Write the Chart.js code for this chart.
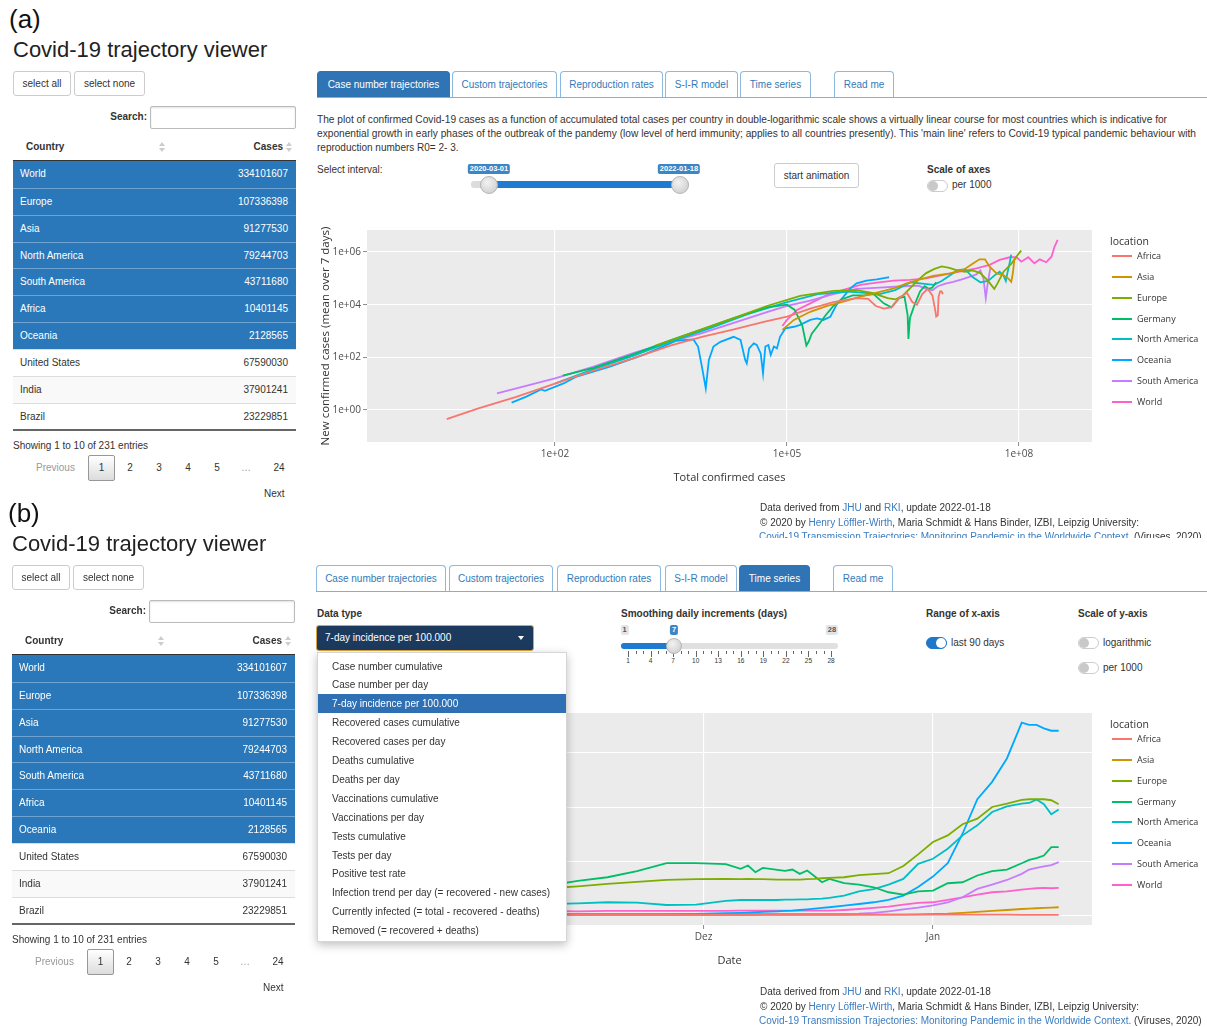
<!DOCTYPE html>
<html lang="de">
<head>
<meta charset="utf-8">
<title>Covid-19 trajectory viewer</title>
<script src="https://cdn.jsdelivr.net/npm/chart.js@4.4.1/dist/chart.umd.min.js"></script>
<style>
  html, body { margin: 0; padding: 0; }
  body { position: relative; width: 1207px; height: 1027px; overflow: hidden; background: #fff;
    font-family: "Liberation Sans", Arial, sans-serif; font-size: 10px; color: #333; }
  .box { position: absolute; box-sizing: border-box; }
  .txt { position: absolute; white-space: nowrap; line-height: 14px; }
  .panelLabel { font-size: 26px; line-height: 30px; color: #111; white-space: nowrap; }
  .appTitle { font-size: 22px; line-height: 26px; color: #222; white-space: nowrap; }
  .btn { border: 1px solid #ccc; border-radius: 3px; text-align: center; line-height: 23px; background: #fff; color: #333; white-space: nowrap; }
  .input { border: 1px solid #bbb; border-radius: 2px; box-shadow: inset 0 1px 2px rgba(0,0,0,.12); background: #fff; }
  .row { border-top: 1px solid #ddd; }
  .row.sel { background: #2a78b9; color: #fff; border-top-color: #6ea3d2; }
  .row.odd { background: #f9f9f9; }
  .row span { position: absolute; top: 0; white-space: nowrap; }
  .sort { position: absolute; width: 6px; height: 10px; }
  .sort::before { content: ""; position: absolute; left: 0; top: 0; border-left: 3px solid transparent; border-right: 3px solid transparent; border-bottom: 4px solid #ccc; }
  .sort::after { content: ""; position: absolute; left: 0; top: 6px; border-left: 3px solid transparent; border-right: 3px solid transparent; border-top: 4px solid #ccc; }
  .pageBox { border: 1px solid #979797; border-radius: 2px; background: linear-gradient(#fff, #dcdcdc); text-align: center; line-height: 24px; }
  .tab { border: 1px solid #8db8e0; border-bottom: none; border-radius: 4px 4px 0 0; text-align: center; line-height: 25px; color: #337ab7; background: #fff; white-space: nowrap; }
  .tab.active { background: #2f74b5; border-color: #2f74b5; color: #fff; }
  .lnk { color: #3a7cc0; }
  .slLabel { position: absolute; height: 10px; line-height: 10px; padding: 0 2px; border-radius: 2px; font-size: 7.5px; font-weight: bold; color: #fff; background: #3d86c6; white-space: nowrap; transform: translateX(-50%); }
  .slLabel.grey { background: #e1e4e9; color: #555; }
  .handle { position: absolute; border-radius: 50%; border: 1px solid #b5b5b5; background: radial-gradient(circle at 40% 35%, #f2f2f2, #c8c8c8); box-sizing: border-box; }
  .toggle { position: absolute; width: 21px; height: 12px; border: 1px solid #ccc; border-radius: 7px; background: #fff; box-sizing: border-box; }
  .toggle::after { content: ""; position: absolute; top: 0; left: 0; width: 10px; height: 10px; border-radius: 50%; background: #c9c9c9; }
  .toggle.on { background: #1f77c9; border-color: #1f77c9; }
  .toggle.on::after { left: 9px; background: #fff; }
  .dropdown { background: #fff; border: 1px solid #d6d6d6; box-shadow: 0 3px 9px rgba(0,0,0,.25); z-index: 5; }
  .ddItem { position: absolute; left: 0; width: 100%; height: 19px; line-height: 19px; padding-left: 14px; box-sizing: border-box; white-space: nowrap; }
  .ddItem.sel { background: #2f6fb3; color: #fff; }
  canvas { position: absolute; }
</style>
</head>
<body>
<canvas id="trajectoryChart" width="800" height="275" style="left:310px;top:222px"></canvas>
<canvas id="timeSeriesChart" width="800" height="275" style="left:310px;top:705px"></canvas>
<script>
// ---------- sidebar table ----------
const tableCountries = ["World", "Europe", "Asia", "North America", "South America", "Africa", "Oceania", "United States", "India", "Brazil"];
const tableCases = [334101607, 107336398, 91277530, 79244703, 43711680, 10401145, 2128565, 67590030, 37901241, 23229851];
const selectedRows = 7;

// ---------- chart (a): trajectories [total confirmed, new confirmed (mean over 7 days)] ----------
const seriesNames = ["Africa", "Asia", "Europe", "Germany", "North America", "Oceania", "South America", "World"];
const seriesColors = ["#F8766D", "#CD9600", "#7CAE00", "#00BE67", "#00BFC4", "#00A9FF", "#C77CFF", "#FF61CC"];

const africaPath = [
  [3.98, 0.447], [10, 1.12], [31.6, 3.16], [100, 10], [316, 31.6], [1000, 89], [3160, 282], [7940, 603],
  [2.0e4, 1120], [5.01e4, 2240], [1.0e5, 3550], [2.0e5, 7080], [3.98e5, 12600], [7.94e5, 17800],
  [1.12e6, 16600], [1.41e6, 8910], [1.78e6, 7080], [2.24e6, 7940], [2.82e6, 17800], [3.55e6, 28200],
  [4.17e6, 12600], [4.79e6, 10000], [5.62e6, 25100], [6.61e6, 39800], [7.59e6, 22400], [8.13e6, 7940],
  [8.51e6, 3550], [8.91e6, 3980], [9.12e6, 20000], [9.55e6, 31600], [1.0e7, 31600], [1.04e7, 25100],
];
const asiaPath = [
  [8.71e4, 1100], [1.23e5, 2630], [2.0e5, 5370], [3.31e5, 8910], [5.37e5, 12900], [8.91e5, 20000],
  [1.45e6, 28800], [2.40e6, 41700], [3.55e6, 64600], [5.25e6, 91200], [7.76e6, 123000], [1.29e7, 155000],
  [1.91e7, 209000], [2.57e7, 372000], [3.09e7, 525000], [3.63e7, 525000], [4.17e7, 275000], [5.13e7, 155000],
  [6.17e7, 135000], [7.24e7, 100000], [7.94e7, 74100], [8.32e7, 155000], [8.71e7, 501000], [9.13e7, 575000],
];
const europePath = [
  [2000, 282], [3980, 562], [7590, 1100], [2.0e4, 3020], [5.5e4, 8910], [1.48e5, 21400], [3.98e5, 33100],
  [7.94e5, 35500], [1.26e6, 28200], [2.0e6, 17800], [2.51e6, 15800], [3.16e6, 22400], [3.98e6, 44700],
  [5.01e6, 89100], [6.31e6, 158000], [7.94e6, 224000], [1.0e7, 282000], [1.26e7, 251000], [1.58e7, 200000],
  [2.0e7, 178000], [2.51e7, 200000], [3.16e7, 158000], [3.98e7, 79400], [4.79e7, 39800], [5.25e7, 63100],
  [6.31e7, 178000], [7.94e7, 355000], [8.91e7, 562000], [1.0e8, 891000], [1.07e8, 1.12e6],
];
const germanyPath = [
  [126, 20], [316, 39.8], [1000, 126], [3160, 447], [7590, 1100], [2.0e4, 3020], [5.5e4, 7940], [1.0e5, 10000],
  [1.26e5, 6310], [1.58e5, 1580], [1.78e5, 282], [1.91e5, 398], [2.09e5, 794], [2.51e5, 1580], [3.16e5, 3980],
  [3.98e5, 8910], [5.01e5, 15800], [7.08e5, 22400], [1.0e6, 22400], [1.32e6, 25100], [1.78e6, 11200],
  [2.24e6, 7940], [2.82e6, 17800], [3.31e6, 20000], [3.63e6, 3980], [3.72e6, 501], [3.89e6, 3160],
  [4.47e6, 10000], [5.25e6, 31600], [6.03e6, 50100], [6.76e6, 39800], [7.59e6, 44700], [8.51e6, 70800],
];
const northAmericaPath = [
  [100, 10], [316, 35.5], [1000, 112], [3160, 398], [1.0e4, 1260], [3.16e4, 4470], [1.0e5, 12600],
  [2.51e5, 25100], [6.31e5, 31600], [1.0e6, 28200], [1.58e6, 25100], [2.51e6, 35500], [3.98e6, 70800],
  [5.62e6, 63100], [7.94e6, 56200], [1.0e7, 79400], [1.26e7, 126000], [1.58e7, 200000], [2.0e7, 224000],
  [2.51e7, 112000], [3.16e7, 70800], [3.98e7, 79400], [5.01e7, 141000], [5.62e7, 178000], [6.31e7, 126000],
  [6.76e7, 79400], [7.08e7, 158000], [7.59e7, 398000], [7.94e7, 794000],
];
const oceaniaPath = [
  [27.5, 1.91], [42.7, 3.24], [66.1, 6.03], [74.1, 5.37], [129, 10.2], [191, 18.6], [513, 44.7], [1380, 123],
  [3720, 427], [6170, 479], [7080, 257], [7940, 44.7], [8910, 6.61], [9770, 79.4], [11200, 257], [13800, 389],
  [20400, 603], [25100, 457], [28800, 79.4], [30200, 58.9], [32400, 219], [37200, 339], [40700, 295],
  [45700, 141], [49000, 24.5], [52500, 257], [57500, 295], [61700, 123], [67600, 257], [74100, 219],
  [81300, 603], [95500, 1260], [1.23e5, 1450], [1.48e5, 1700], [2.0e5, 2630], [2.45e5, 3020], [2.95e5, 2630],
  [3.63e5, 3470], [4.37e5, 9770], [5.37e5, 20000], [6.61e5, 41700], [7.94e5, 64600], [1.07e6, 81300],
  [1.45e6, 91200], [1.95e6, 107000], [2.09e6, 110000],
];
const southAmericaPath = [
  [17.8, 4.27], [39.8, 7.94], [100, 15.8], [316, 44.7], [1000, 141], [3160, 398], [7590, 794], [2.0e4, 2000],
  [5.5e4, 5250], [1.0e5, 8910], [2.0e5, 14100], [3.98e5, 25100], [7.94e5, 39800], [1.58e6, 44700],
  [3.16e6, 50100], [5.01e6, 52500], [6.31e6, 39800], [7.59e6, 35500], [8.91e6, 50100], [1.12e7, 63100],
  [1.41e7, 74100], [1.78e7, 89100], [2.24e7, 112000], [2.82e7, 141000], [3.16e7, 200000], [3.47e7, 100000],
  [3.72e7, 17800], [3.98e7, 79400], [4.27e7, 251000],
];
const worldPath = [
  [8.71e4, 1550], [1.0e5, 2630], [1.35e5, 6310], [2.0e5, 11200], [3.31e5, 23400], [5.37e5, 36300],
  [8.91e5, 56200], [1.45e6, 69200], [2.40e6, 81300], [3.89e6, 87100], [6.31e6, 100000], [1.05e7, 135000],
  [1.70e7, 178000], [2.82e7, 240000], [4.17e7, 324000], [5.62e7, 501000], [7.59e7, 631000], [9.33e7, 631000],
  [1.07e8, 427000], [1.32e8, 631000], [1.58e8, 372000], [1.86e8, 525000], [2.24e8, 407000], [2.63e8, 661000],
  [2.88e8, 1.58e6], [3.16e8, 2.88e6],
];
const trajectoryPaths = [africaPath, asiaPath, europePath, germanyPath, northAmericaPath, oceaniaPath, southAmericaPath, worldPath];

const totalTickValues = [1e2, 1e5, 1e8];
const totalTickLabels = ["1e+02", "1e+05", "1e+08"];
const dailyTickValues = [1, 1e2, 1e4, 1e6];
const dailyTickLabels = ["1e+00", "1e+02", "1e+04", "1e+06"];

// ---------- chart (b): 7-day incidence per 100.000, last 90 days ----------
const incidenceDates = [
  "2021-10-20", "2021-10-27", "2021-11-03", "2021-11-10", "2021-11-14", "2021-11-18", "2021-11-22", "2021-11-26",
  "2021-11-30", "2021-12-04", "2021-12-06", "2021-12-07", "2021-12-08", "2021-12-09", "2021-12-11", "2021-12-12",
  "2021-12-13", "2021-12-14", "2021-12-15", "2021-12-16", "2021-12-17", "2021-12-18", "2021-12-20", "2021-12-22",
  "2021-12-24", "2021-12-26", "2021-12-28", "2021-12-30", "2022-01-01", "2022-01-03", "2022-01-05", "2022-01-07",
  "2022-01-09", "2022-01-11", "2022-01-13", "2022-01-14", "2022-01-15", "2022-01-16", "2022-01-17", "2022-01-18",
];
const africaIncidence = [10, 10, 10, 9, 9, 9, 9, 9, 9, 9, 9, 9, 9, 10, 10, 10, 10, 10, 10, 10, 11, 11, 11, 12, 12, 13, 13, 13, 13, 13, 13, 12, 12, 12, 11, 11, 11, 11, 11, 11];
const asiaIncidence = [12, 12, 12, 12, 12, 12, 12, 12, 12, 12, 12, 12, 12, 12, 12, 12, 12, 12, 12, 12, 12, 12, 12, 12, 12, 12, 13, 15, 18, 21, 28, 37, 46, 55, 64, 68, 71, 74, 77, 80];
const europeIncidence = [170, 200, 230, 255, 273, 295, 313, 331, 338, 341, 338, 341, 338, 338, 335, 335, 335, 335, 338, 341, 347, 350, 356, 375, 384, 393, 460, 566, 680, 741, 843, 895, 1002, 1033, 1068, 1073, 1073, 1073, 1064, 1027];
const germanyIncidence = [110, 150, 200, 280, 323, 356, 412, 485, 485, 476, 433, 464, 402, 442, 424, 415, 427, 387, 418, 365, 310, 341, 301, 289, 264, 218, 197, 227, 233, 301, 310, 372, 412, 427, 485, 516, 531, 556, 633, 633];
const northAmericaIncidence = [130, 118, 110, 108, 116, 126, 123, 101, 104, 138, 147, 147, 147, 147, 147, 150, 150, 153, 153, 157, 160, 166, 187, 227, 246, 289, 341, 479, 526, 618, 741, 833, 956, 1008, 1033, 1039, 1070, 1027, 935, 978];
const oceaniaIncidence = [20, 20, 20, 18, 15, 15, 15, 15, 18, 25, 28, 31, 34, 37, 43, 46, 49, 55, 61, 68, 74, 80, 95, 110, 126, 147, 187, 267, 362, 486, 756, 1073, 1233, 1448, 1777, 1756, 1756, 1725, 1703, 1703];
const southAmericaIncidence = [12, 12, 12, 12, 18, 18, 18, 18, 18, 18, 18, 18, 18, 18, 18, 18, 18, 18, 18, 18, 18, 18, 18, 21, 28, 43, 61, 77, 98, 126, 172, 249, 289, 331, 387, 427, 442, 455, 467, 495];
const worldIncidence = [44, 45, 46, 46, 43, 46, 46, 46, 46, 46, 49, 49, 49, 49, 49, 49, 49, 49, 49, 49, 49, 49, 55, 64, 74, 86, 104, 120, 126, 147, 172, 197, 218, 227, 243, 249, 255, 258, 255, 258];
const incidenceSeries = [africaIncidence, asiaIncidence, europeIncidence, germanyIncidence, northAmericaIncidence, oceaniaIncidence, southAmericaIncidence, worldIncidence];

const dateTickDates = ["2021-12-01", "2022-01-01"];
const dateTickLabels = ["Dez", "Jan"];
const incidenceTickValues = [0, 500, 1000, 1500];

// ---------- page furniture ----------
const tabNames = ["Case number trajectories", "Custom trajectories", "Reproduction rates", "S-I-R model", "Time series", "Read me"];
const dataTypes = [
  "Case number cumulative", "Case number per day", "7-day incidence per 100.000", "Recovered cases cumulative",
  "Recovered cases per day", "Deaths cumulative", "Deaths per day", "Vaccinations cumulative", "Vaccinations per day",
  "Tests cumulative", "Tests per day", "Positive test rate", "Infection trend per day (= recovered - new cases)",
  "Currently infected (= total - recovered - deaths)", "Removed (= recovered + deaths)",
];
const smoothingLabels = [1, 4, 7, 10, 13, 16, 19, 22, 25, 28];

const body = document.body;

function addBox(host, cls, x, y, w, h, text, css) {
  const el = document.createElement("div");
  el.className = "box " + cls;
  el.style.left = x + "px";
  el.style.top = y + "px";
  if (w != null) el.style.width = w + "px";
  if (h != null) el.style.height = h + "px";
  if (text != null) el.textContent = text;
  if (css) Object.assign(el.style, css);
  host.appendChild(el);
  return el;
}

function addText(host, x, yCenter, text, css) {
  const el = document.createElement("div");
  el.className = "txt";
  el.style.left = x + "px";
  el.style.top = (yCenter - 7) + "px";
  el.innerHTML = text;
  if (css) Object.assign(el.style, css);
  host.appendChild(el);
  return el;
}

function buildSidebar(dx, dy, label) {
  const X = (x) => x + dx;
  const Y = (y) => y + dy;
  addBox(body, "panelLabel", X(9), Y(4), null, null, label);
  addBox(body, "appTitle", X(13), Y(37), null, null, "Covid-19 trajectory viewer");
  addBox(body, "btn", X(13), Y(71), 58, 25, "select all");
  addBox(body, "btn", X(74), Y(71), 71, 25, "select none");
  addText(body, X(97), Y(117), "Search:", { fontWeight: "bold", width: "50px", textAlign: "right" });
  addBox(body, "input", X(150), Y(106), 146, 23);
  addText(body, X(26), Y(147), "Country", { fontWeight: "bold" });
  addBox(body, "sort", X(159), Y(142));
  addText(body, X(200), Y(147), "Cases", { fontWeight: "bold", width: "83px", textAlign: "right" });
  addBox(body, "sort", X(286), Y(142));
  addBox(body, "", X(13), Y(160), 283, 1, null, { background: "#333" });

  const rowHeight = 26.85;
  tableCountries.forEach((name, i) => {
    const selected = i < selectedRows;
    const cls = "row" + (selected ? " sel" : i % 2 === 0 ? " odd" : "");
    const row = addBox(body, cls, X(13), Y(161 + i * rowHeight), 283, rowHeight, null, { lineHeight: rowHeight + "px" });
    if (i === 0) row.style.borderTop = "none";
    const nameSpan = document.createElement("span");
    nameSpan.style.left = "7px";
    nameSpan.textContent = name;
    const caseSpan = document.createElement("span");
    caseSpan.style.right = "8px";
    caseSpan.textContent = String(tableCases[i]);
    row.append(nameSpan, caseSpan);
  });
  addBox(body, "", X(13), Y(429), 283, 2, null, { background: "#666" });

  addText(body, X(13), Y(446), "Showing 1 to 10 of 231 entries");
  addText(body, X(36), Y(468), "Previous", { color: "#999" });
  addBox(body, "pageBox", X(88), Y(455), 27, 26, "1");
  const pageLabels = ["2", "3", "4", "5", "…", "24"];
  const pageCenters = [130, 159, 188, 217, 246, 279];
  pageLabels.forEach((p, i) => {
    addText(body, X(pageCenters[i] - 15), Y(468), p, { width: "30px", textAlign: "center", color: p === "…" ? "#999" : "#333" });
  });
  addText(body, X(264), Y(494), "Next");
}

function buildTabs(lefts, widths, top, active) {
  tabNames.forEach((name, i) => {
    addBox(body, "tab" + (i === active ? " active" : ""), lefts[i], top, widths[i], 27, name);
  });
  addBox(body, "", lefts[0], top + 26, 1207 - lefts[0], 1, null, { background: "#7fb1de" });
}

function buildFooter(y0, clipBottom) {
  const holder = addBox(body, "", 0, 0, 1207, clipBottom, null, { overflow: "hidden" });
  addText(holder, 760, y0, 'Data derived from <span class="lnk">JHU</span> and <span class="lnk">RKI</span>, update 2022-01-18');
  addText(holder, 760, y0 + 14.5, '© 2020 by <span class="lnk">Henry Löffler-Wirth</span>, Maria Schmidt &amp; Hans Binder, IZBI, Leipzig University:');
  addText(holder, 759, y0 + 29, '<span class="lnk">Covid-19 Transmission Trajectories: Monitoring Pandemic in the Worldwide Context.</span> (Viruses, 2020)');
}

function fitWidth(el, target) {
  const w = el.getBoundingClientRect().width;
  el.style.transformOrigin = "0 50%";
  el.style.transform = "scaleX(" + (target / w) + ")";
}

// ----- panel (a) -----
buildSidebar(0, 0, "(a)");
buildTabs([317, 452, 560, 665, 740, 834], [133, 105, 103, 73, 71, 60], 71, 0);
fitWidth(addText(body, 317, 120, "The plot of confirmed Covid-19 cases as a function of accumulated total cases per country in double-logarithmic scale shows a virtually linear course for most countries which is indicative for"), 850);
fitWidth(addText(body, 317, 134, "exponential growth in early phases of the outbreak of the pandemy (low level of herd immunity; applies to all countries presently). This 'main line' refers to Covid-19 typical pandemic behaviour with"), 879);
addText(body, 317, 148, "reproduction numbers R0= 2- 3.");
addText(body, 317, 170, "Select interval:");
addBox(body, "", 471, 180.5, 218, 7, null, { background: "#dcdcdc", borderRadius: "3px" });
addBox(body, "", 488, 180.5, 191, 7, null, { background: "#1f7bcf" });
addBox(body, "slLabel", 489, 164, null, null, "2020-03-01");
addBox(body, "slLabel", 679, 164, null, null, "2022-01-18");
addBox(body, "handle", 479.5, 175.5, 18, 18);
addBox(body, "handle", 670.5, 175.5, 18, 18);
addBox(body, "btn", 774, 163, 85, 25, "start animation");
addText(body, 927, 170, "Scale of axes", { fontWeight: "bold" });
addBox(body, "toggle", 927, 180, null, null);
addText(body, 952, 185, "per 1000");
buildFooter(508, 538);

// ----- panel (b) -----
buildSidebar(-1, 494, "(b)");
buildTabs([316, 449, 557, 665, 739, 833], [130, 104, 104, 72, 71, 60], 565, 4);
addText(body, 317, 614, "Data type", { fontWeight: "bold" });
const selectBox = addBox(body, "", 316, 625, 218, 26, null, { background: "#1c3a5e", border: "1.5px solid #dba53c", borderRadius: "3px", color: "#fff", lineHeight: "23px", paddingLeft: "8px", whiteSpace: "nowrap" });
selectBox.textContent = dataTypes[2];
addBox(body, "", 518, 636, 0, 0, null, { borderLeft: "3px solid transparent", borderRight: "3px solid transparent", borderTop: "4px solid #fff" });

addText(body, 621, 614, "Smoothing daily increments (days)", { fontWeight: "bold" });
addBox(body, "slLabel grey", 624.5, 625, null, null, "1");
addBox(body, "slLabel", 674, 625, null, null, "7");
addBox(body, "slLabel grey", 832, 625, null, null, "28");
addBox(body, "", 621, 643, 217, 6, null, { background: "#e0e0e0", borderRadius: "3px" });
addBox(body, "", 621, 643, 53, 6, null, { background: "#1f7bcf", borderRadius: "3px 0 0 3px" });
for (let v = 1; v <= 28; v++) {
  const x = 628 + (v - 1) * 7.52;
  const major = (v - 1) % 3 === 0;
  addBox(body, "", x, 651, 1, major ? 6 : 3, null, { background: "#666" });
}
smoothingLabels.forEach((v) => {
  addText(body, 628 + (v - 1) * 7.52 - 10, 661, String(v), { width: "20px", textAlign: "center", fontSize: "6.5px" });
});
addBox(body, "handle", 666, 638, 16, 16);

addText(body, 926, 614, "Range of x-axis", { fontWeight: "bold" });
addBox(body, "toggle on", 926, 637, null, null);
addText(body, 951, 643, "last 90 days");
addText(body, 1078, 614, "Scale of y-axis", { fontWeight: "bold" });
addBox(body, "toggle", 1078, 637, null, null);
addText(body, 1103, 643, "logarithmic");
addBox(body, "toggle", 1078, 662, null, null);
addText(body, 1103, 668, "per 1000");

const dropdown = addBox(body, "dropdown", 317, 652, 250, 290);
dataTypes.forEach((name, i) => {
  addBox(dropdown, "ddItem" + (i === 2 ? " sel" : ""), 0, 3.5 + i * 18.9, null, 19, name, { fontSize: "10px" });
});
buildFooter(992, 1027);

// ---------- charts ----------
const chartFont = "'Open Sans', sans-serif";
Chart.defaults.font.family = chartFont;

const ggBackground = {
  id: "ggBackground",
  beforeDraw(chart) {
    const { ctx, chartArea } = chart;
    ctx.save();
    ctx.fillStyle = "#ebebeb";
    ctx.fillRect(chartArea.left, chartArea.top, chartArea.right - chartArea.left, chartArea.bottom - chartArea.top);
    ctx.restore();
  },
};

const gridStyle = { color: "#ffffff", lineWidth: 1.1, tickColor: "#8a8a8a", tickLength: 4, tickWidth: 1 };
const tickStyle = { font: { family: chartFont, size: 10 }, color: "#4d4d4d", padding: 2, maxRotation: 0, autoSkip: false };

function axisTitle(text, size, padding) {
  return { display: true, text, color: "#333", font: { family: chartFont, size }, padding };
}

function xAxis(type, min, max, values, labels, title) {
  return {
    type, min, max,
    afterBuildTicks: (s) => { s.ticks = values.map((v) => ({ value: v })); },
    afterFit: (s) => { s.height = 55; },
    ticks: { ...tickStyle, callback: (v, i) => labels[i] },
    grid: gridStyle,
    border: { display: false },
    title: axisTitle(title, 11, { top: 0, bottom: 13 }),
  };
}

function yAxis(type, min, max, values, labels, title) {
  return {
    type, min, max,
    afterBuildTicks: (s) => { s.ticks = values.map((v) => ({ value: v })); },
    afterFit: (s) => { s.width = 57; },
    ticks: { ...tickStyle, callback: (v, i) => labels[i] },
    grid: gridStyle,
    border: { display: false },
    title: title ? axisTitle(title, 11.5, { top: 9, bottom: 0 }) : { display: false },
  };
}

function lineDataset(name, color, points) {
  return {
    label: name, data: points, borderColor: color, backgroundColor: color,
    borderWidth: 1.8, pointRadius: 0, showLine: true, fill: false, tension: 0,
  };
}

function chartOptions(x, y) {
  return {
    responsive: false, animation: false, devicePixelRatio: 1,
    layout: { padding: { top: 8, right: 18, bottom: 0, left: 0 } },
    plugins: { legend: { display: false }, tooltip: { enabled: false } },
    scales: { x, y },
  };
}

function buildLegend(chart, x, titleY, firstY) {
  addText(body, x, titleY, "location", { fontFamily: chartFont, fontSize: "10.5px", color: "#333" });
  chart.data.datasets.forEach((ds, i) => {
    const y = firstY + i * 20.85;
    addBox(body, "", x + 2, y - 1, 20, 2, null, { background: ds.borderColor });
    addText(body, x + 27, y, ds.label, { fontFamily: chartFont, fontSize: "9px", color: "#333" });
  });
}

const trajectoryChart = new Chart(document.getElementById("trajectoryChart"), {
  type: "scatter",
  data: {
    datasets: seriesNames.map((name, i) =>
      lineDataset(name, seriesColors[i], trajectoryPaths[i].map(([total, daily]) => ({ x: total, y: daily })))
    ),
  },
  options: chartOptions(
    xAxis("logarithmic", 0.371, 8.79e8, totalTickValues, totalTickLabels, "Total confirmed cases"),
    yAxis("logarithmic", 0.061, 6.84e6, dailyTickValues, dailyTickLabels, "New confirmed cases (mean over 7 days)")
  ),
  plugins: [ggBackground],
});
buildLegend(trajectoryChart, 1110, 241, 256);

const dayOrigin = Date.parse(dateTickDates[0]);
const dayNumber = (iso) => Math.round((Date.parse(iso) - dayOrigin) / 86400000);

const timeSeriesChart = new Chart(document.getElementById("timeSeriesChart"), {
  type: "scatter",
  data: {
    datasets: seriesNames.map((name, i) =>
      lineDataset(name, seriesColors[i], incidenceDates.map((d, j) => ({ x: dayNumber(d), y: incidenceSeries[i][j] })))
    ),
  },
  options: chartOptions(
    xAxis("linear", -45.5, 52.5, dateTickDates.map(dayNumber), dateTickLabels, "Date"),
    yAxis("linear", -83, 1866, incidenceTickValues, incidenceTickValues.map(String), null)
  ),
  plugins: [ggBackground],
});
buildLegend(timeSeriesChart, 1110, 724, 739);
</script>
</body>
</html>
